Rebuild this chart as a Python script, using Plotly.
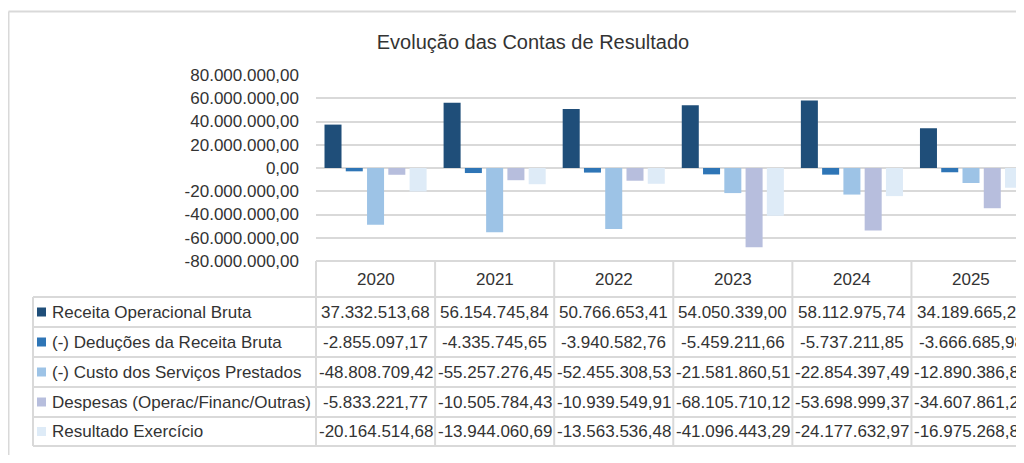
import plotly.graph_objects as go

# ---------------- data ----------------
years = ["2020", "2021", "2022", "2023", "2024", "2025"]
series_names = [
    "Receita Operacional Bruta",
    "(-) Deduções da Receita Bruta",
    "(-) Custo dos Serviços Prestados",
    "Despesas (Operac/Financ/Outras)",
    "Resultado Exercício",
]
receita = [37332513.68, 56154745.84, 50766653.41, 54050339.00, 58112975.74, 34189665.20]
deducoes = [-2855097.17, -4335745.65, -3940582.76, -5459211.66, -5737211.85, -3666685.98]
custo = [-48808709.42, -55257276.45, -52455308.53, -21581860.51, -22854397.49, -12890386.83]
despesas = [-5833221.77, -10505784.43, -10939549.91, -68105710.12, -53698999.37, -34607861.21]
resultado = [-20164514.68, -13944060.69, -13563536.48, -41096443.29, -24177632.97, -16975268.82]
series_values = [receita, deducoes, custo, despesas, resultado]
tick_values = [80e6, 60e6, 40e6, 20e6, 0, -20e6, -40e6, -60e6, -80e6]
title_text = "Evolução das Contas de Resultado"

# ---------------- style ----------------
colors = ["#1F4E79", "#2E75B6", "#9DC3E6", "#B7BEDD", "#DEEBF7"]
FONT = "Liberation Sans"
TXT = "#333333"
GRID = "#D9D9D9"
FS = 17

OFF = 8  # page body margin offset
W, H = 1024 - OFF, 463 - 2 * OFF
# plot-area box in screen pixels
S_PL, S_PR, S_PT, S_PB = 316, 1024, 75, 261
PL, PR, PT, PB = S_PL - OFF, S_PR - OFF, S_PT - OFF, S_PB - OFF


def br(v):
    s = f"{v:,.2f}"
    return s.replace(",", "X").replace(".", ",").replace("X", ".")


def px_x(sx):
    """screen x -> paper x"""
    return (sx - OFF - PL) / (PR - PL)


def px_y(sy):
    """screen y -> paper y"""
    return (PB - (sy - OFF)) / (PB - PT)


fig = go.Figure()
for name, vals, c in zip(series_names, series_values, colors):
    fig.add_trace(go.Bar(x=years, y=vals, name=name, marker=dict(color=c, line=dict(width=0))))

shapes = []
annotations = []

# chart border (top & left)
shapes.append(dict(type="line", xref="paper", yref="paper", x0=px_x(8.5), x1=px_x(1040),
                   y0=px_y(11.5), y1=px_y(11.5), line=dict(color=GRID, width=2)))
shapes.append(dict(type="line", xref="paper", yref="paper", x0=px_x(8.5), x1=px_x(8.5),
                   y0=px_y(11.5), y1=px_y(480), line=dict(color=GRID, width=2)))

# data table grid
row_lines = [297, 327, 357, 387, 417, 446]
shapes.append(dict(type="line", xref="paper", yref="paper", x0=0, x1=px_x(1040),
                   y0=0, y1=0, line=dict(color=GRID, width=2)))
for yl in row_lines:
    shapes.append(dict(type="line", xref="paper", yref="paper", x0=px_x(33), x1=px_x(1040),
                       y0=px_y(yl), y1=px_y(yl), line=dict(color=GRID, width=2)))
shapes.append(dict(type="line", xref="paper", yref="paper", x0=px_x(33), x1=px_x(33),
                   y0=px_y(297), y1=px_y(446), line=dict(color=GRID, width=2)))
shapes.append(dict(type="line", xref="paper", yref="paper", x0=0, x1=0,
                   y0=0, y1=px_y(446), line=dict(color=GRID, width=2)))
for i in range(1, len(years)):
    shapes.append(dict(type="line", xref="x", yref="paper", x0=i - 0.5, x1=i - 0.5,
                       y0=0, y1=px_y(446), line=dict(color=GRID, width=2)))

# header years (x given as category index)
for i, yr in enumerate(years):
    annotations.append(dict(x=i, xref="x", y=px_y(279), yref="paper", text=yr,
                            showarrow=False, xanchor="center", yanchor="middle",
                            font=dict(family=FONT, size=FS, color=TXT)))

# rows
for r, (name, vals, c) in enumerate(zip(series_names, series_values, colors)):
    yc = (row_lines[r] + row_lines[r + 1]) / 2
    shapes.append(dict(type="rect", xref="paper", yref="paper", x0=px_x(37), x1=px_x(46),
                       y0=px_y(yc + 4.5), y1=px_y(yc - 4.5), fillcolor=c, line=dict(width=0)))
    annotations.append(dict(x=px_x(50), xref="paper", y=px_y(yc), yref="paper", text=name,
                            showarrow=False, xanchor="left", yanchor="middle",
                            font=dict(family=FONT, size=FS, color=TXT)))
    for i, v in enumerate(vals):
        annotations.append(dict(x=i, xref="x", y=px_y(yc), yref="paper", text=br(v),
                                showarrow=False, xanchor="center", yanchor="middle",
                                font=dict(family=FONT, size=FS, color=TXT)))

fig.update_layout(
    width=W, height=H,
    margin=dict(l=PL, r=W - PR, t=PT, b=H - PB, pad=0),
    paper_bgcolor="white", plot_bgcolor="white",
    showlegend=False,
    barmode="group", bargap=0.107, bargroupgap=0.2,
    title=dict(text=title_text, xref="container", yref="container",
               x=(533 - OFF) / W, y=1 - (42 - OFF) / H,
               xanchor="center", yanchor="middle", font=dict(family=FONT, size=20, color=TXT)),
    xaxis=dict(type="category", range=[-0.5, 5.445], showgrid=False, showticklabels=False,
               showline=False, zeroline=False, ticks=""),
    yaxis=dict(range=[-80e6, 80e6], tickvals=tick_values, ticktext=[br(v) for v in tick_values],
               showgrid=True, gridcolor=GRID, gridwidth=1.5, zeroline=True, zerolinecolor=GRID,
               zerolinewidth=1.5, showline=False, ticks="", ticklabelstandoff=16,
               tickfont=dict(family=FONT, size=FS, color=TXT)),
    shapes=shapes,
    annotations=annotations,
)

fig.write_html("out.html")
